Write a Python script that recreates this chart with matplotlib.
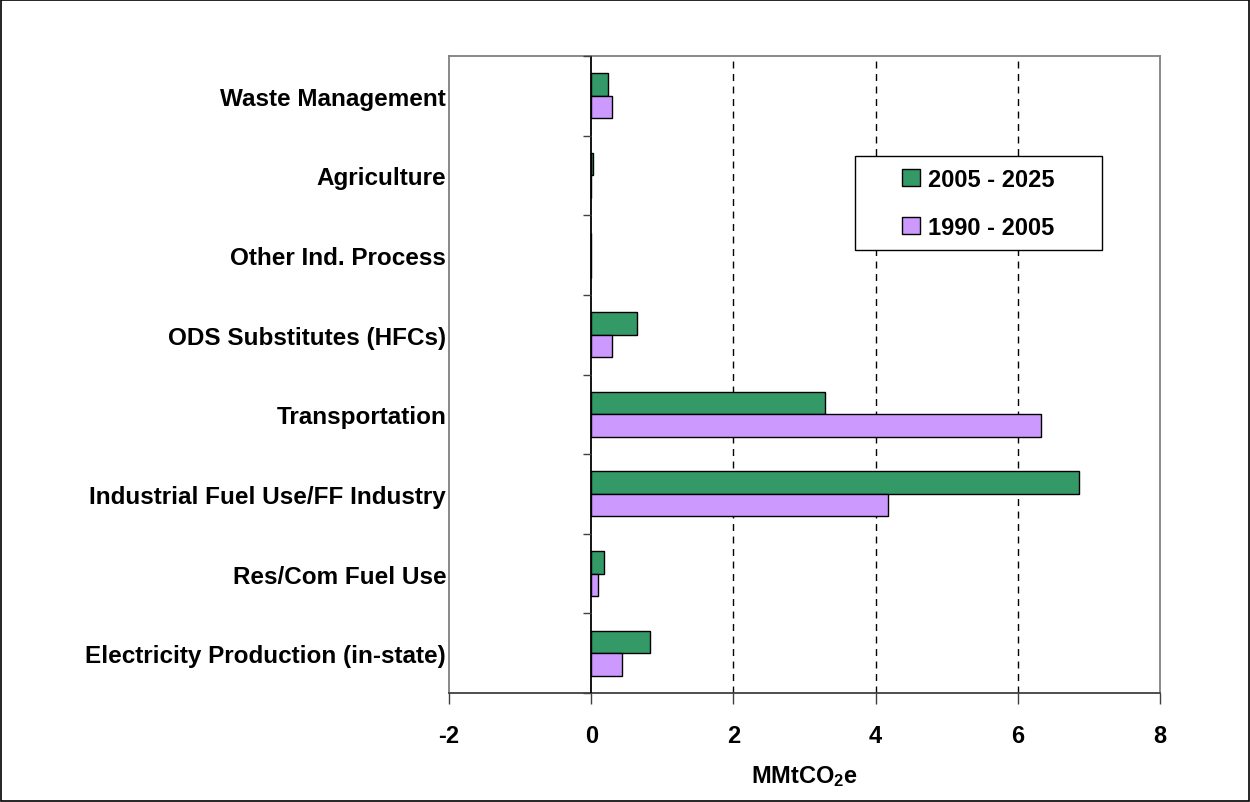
"""Emission change by sector, horizontal grouped bars."""

import matplotlib

matplotlib.use("Agg")
import numpy as np  # noqa: E402
from matplotlib import pyplot as plt  # noqa: E402
from matplotlib.patches import Rectangle  # noqa: E402

sectors = [
    "Electricity Production (in-state)",
    "Res/Com Fuel Use",
    "Industrial Fuel Use/FF Industry",
    "Transportation",
    "ODS Substitutes (HFCs)",
    "Other Ind. Process",
    "Agriculture",
    "Waste Management",
]
change_2005_2025 = [0.82, 0.18, 6.86, 3.29, 0.64, 0.0, 0.02, 0.23]
change_1990_2005 = [0.43, 0.10, 4.18, 6.33, 0.29, 0.0, 0.0, 0.29]
x_ticks = [-2, 0, 2, 4, 6, 8]
grid_at = [2, 4, 6]

GREEN = "#339966"
PURPLE = "#CC99FF"

plt.rcParams["font.family"] = ["Liberation Sans", "DejaVu Sans"]
plt.rcParams["font.weight"] = "bold"
plt.rcParams["mathtext.fontset"] = "custom"
plt.rcParams["mathtext.bf"] = "Liberation Sans:bold"
plt.rcParams["mathtext.rm"] = "Liberation Sans:bold"
plt.rcParams["mathtext.default"] = "bf"

fig = plt.figure(figsize=(12.5, 8.03), dpi=100)
ax = fig.add_axes([0.3592, 0.1357, 0.5688, 0.7933])

centers = np.arange(len(sectors)) + 0.5
bar_h = 0.283
ax.barh(centers + bar_h / 2, change_2005_2025, height=bar_h, color=GREEN,
        edgecolor="black", linewidth=1, label="2005 - 2025", zorder=3)
ax.barh(centers - bar_h / 2, change_1990_2005, height=bar_h, color=PURPLE,
        edgecolor="black", linewidth=1, label="1990 - 2005", zorder=3)

ax.set_xlim(x_ticks[0], x_ticks[-1])
ax.set_ylim(0, len(sectors))
ax.set_xticks(x_ticks)
ax.set_xticklabels([str(t) for t in x_ticks], fontsize=17, fontweight="bold")
ax.tick_params(axis="x", length=8, width=1, color="#404040", pad=14)
ax.set_yticks(centers)
ax.set_yticklabels(sectors, fontsize=17.5, fontweight="bold")
ax.tick_params(axis="y", length=0, pad=2)
for lbl in ax.get_yticklabels():
    lbl.set_y(lbl.get_position()[1])

for x in grid_at:
    ax.axvline(x, color="black", linewidth=1, linestyle=(0, (5, 4)), zorder=1)

# vertical category axis crosses at zero, with its tick marks
ax.axvline(0, color="black", linewidth=1.3, zorder=4)
ax.hlines(np.arange(len(sectors) + 1), -0.11, 0, colors="#404040", linewidth=1,
          zorder=4, clip_on=False)

for side in ("left", "top", "right"):
    ax.spines[side].set_color("#808080")
    ax.spines[side].set_linewidth(1.3)
ax.spines["bottom"].set_color("#404040")
ax.spines["bottom"].set_linewidth(1.3)

ax.set_xlabel("MMtCO$_2$e", fontsize=17, fontweight="bold", labelpad=12)

# legend box with a fixed frame, entries centred inside it
box = Rectangle((0.571, 0.695), 0.347, 0.148, transform=ax.transAxes,
                facecolor="white", edgecolor="black", linewidth=1, zorder=5)
ax.add_patch(box)
leg = ax.legend(loc="center", bbox_to_anchor=(0.571 + 0.347 / 2, 0.695 + 0.148 / 2),
                fontsize=17, frameon=False, handlelength=0.75, handleheight=0.75,
                handletextpad=0.35, labelspacing=1.05, borderpad=0, borderaxespad=0)
leg.set_zorder(6)
for text in leg.get_texts():
    text.set_fontweight("bold")

fig.patches.append(Rectangle((0.0005, 0.0007), 0.9985, 0.9985, transform=fig.transFigure,
                             fill=False, edgecolor="black", linewidth=1.2))

fig.savefig("out.png", dpi=100)
